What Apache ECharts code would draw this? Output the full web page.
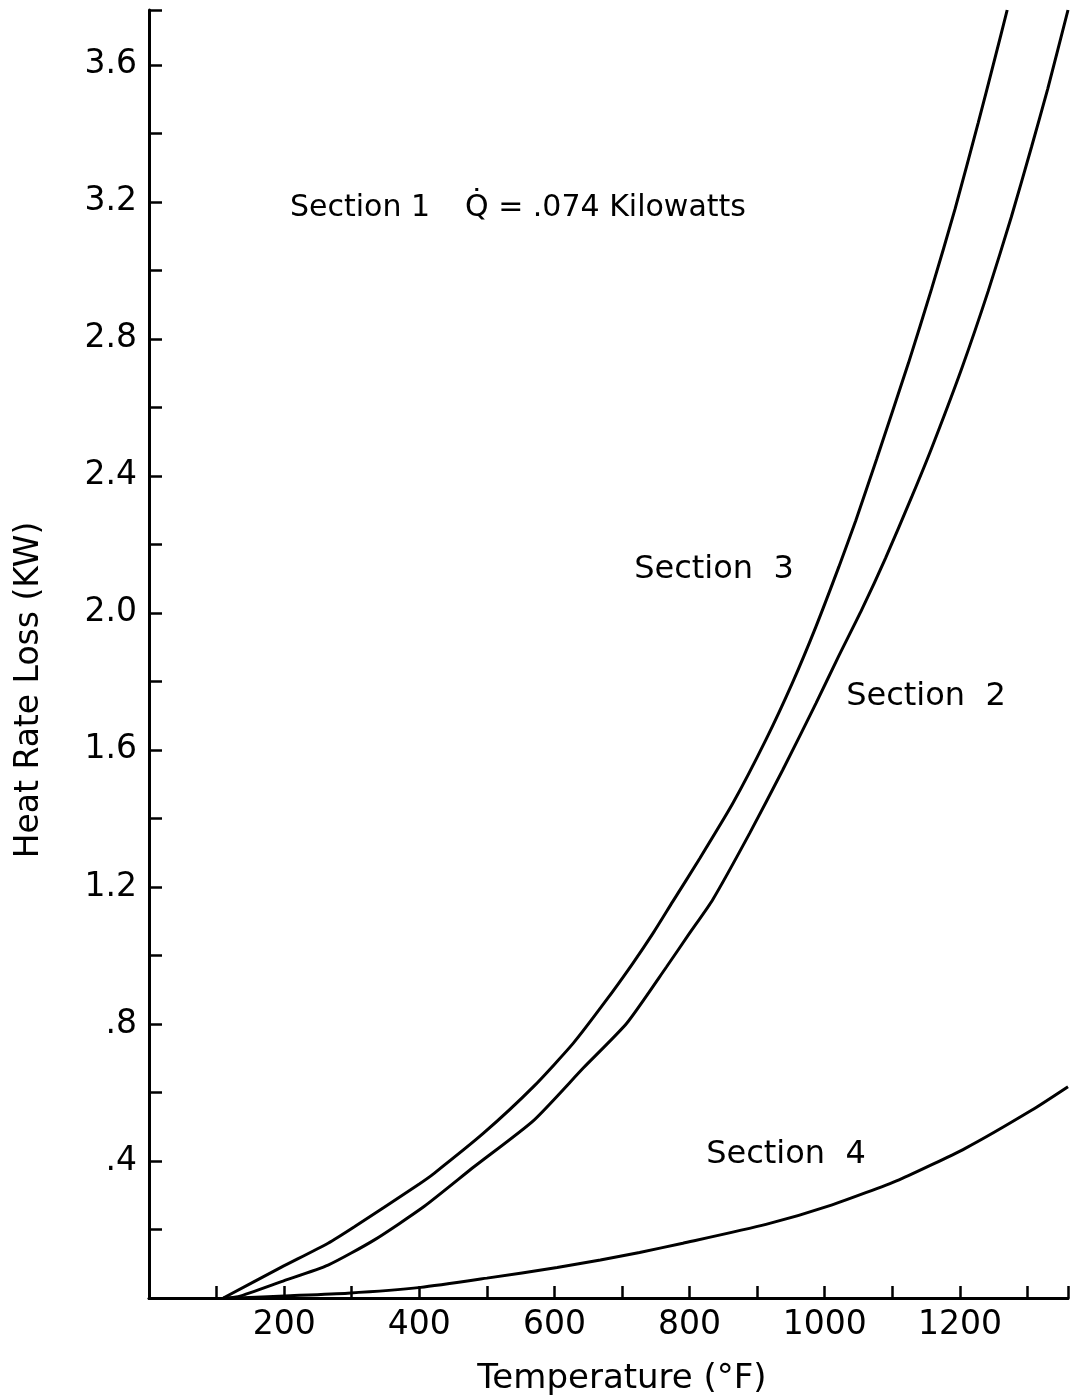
<!DOCTYPE html>
<html>
<head>
<meta charset="utf-8">
<script src="https://cdn.jsdelivr.net/npm/echarts@6/dist/echarts.min.js"></script>
<style>
  html, body { margin: 0; padding: 0; background: #fff; }
  #chart { width: 1071px; height: 1399px; }
</style>
</head>
<body>
<div id="chart"></div>
<script>
// ---- data ----
const sec3Temp = [110, 196, 265, 304, 400, 422, 495, 569, 628, 677, 716, 746, 775, 815, 864, 913, 952, 987, 1021, 1046, 1077, 1124, 1158, 1193, 1227, 1252, 1270];
const sec3Kw   = [0, 0.090, 0.160, 0.208, 0.333, 0.364, 0.481, 0.617, 0.744, 0.870, 0.977, 1.065, 1.157, 1.283, 1.444, 1.630, 1.795, 1.960, 2.135, 2.270, 2.450, 2.730, 2.945, 3.180, 3.430, 3.620, 3.760];

const sec2Temp = [110, 132, 196, 265, 333, 407, 481, 569, 643, 707, 766, 800, 834, 889, 938, 987, 1021, 1055, 1090, 1129, 1158, 1203, 1242, 1276, 1306, 1330, 1360];
const sec2Kw   = [0, 0.004, 0.048, 0.096, 0.169, 0.267, 0.383, 0.518, 0.672, 0.802, 0.967, 1.065, 1.162, 1.357, 1.542, 1.736, 1.875, 2.010, 2.160, 2.340, 2.480, 2.715, 2.940, 3.155, 3.360, 3.530, 3.760];

const sec4Temp = [130, 201, 294, 402, 500, 604, 668, 726, 790, 913, 1011, 1110, 1208, 1306, 1360];
const sec4Kw   = [0, 0.006, 0.014, 0.031, 0.058, 0.089, 0.111, 0.133, 0.160, 0.215, 0.272, 0.345, 0.437, 0.548, 0.617];

const xTickLabels = ['200', '400', '600', '800', '1000', '1200'];
const yTickLabels = ['.4', '.8', '1.2', '1.6', '2.0', '2.4', '2.8', '3.2', '3.6'];

const seriesNames = ['Section 3', 'Section 2', 'Section 4'];
const annotation = ['Section 1', 'Q\u0307 = .074 Kilowatts'];
const xTitle = 'Temperature (\u00B0F)';
const yTitle = 'Heat Rate Loss (KW)';

// ---- helpers ----
const zip = (a, b) => a.map((v, i) => [v, b[i]]);
const FONT = '"DejaVu Sans", "Liberation Sans", sans-serif';

function xLabel(v) {
  const s = String(Math.round(v));
  return (Math.abs(v - Math.round(v)) < 1e-6 && xTickLabels.indexOf(s) >= 0) ? s : '';
}
function yLabel(v) {
  let s = (Math.round(v * 10) / 10).toFixed(1);
  if (Math.abs(v - parseFloat(s)) > 1e-6) return '';
  if (s.charAt(0) === '0') s = s.slice(1);
  return yTickLabels.indexOf(s) >= 0 ? s : '';
}

const chart = echarts.init(document.getElementById('chart'), null, { renderer: 'canvas' });

const lineStyle = { color: '#000', width: 3 };

const option = {
  backgroundColor: '#fff',
  animation: false,
  grid: { left: 149, right: 1, top: 10, bottom: 101, containLabel: false },
  xAxis: [
    {
      type: 'value', min: 0, max: 1360, interval: 100,
      axisLine: { show: true, onZero: false, lineStyle: { color: '#000', width: 3 } },
      axisTick: { show: true, inside: true, length: 12, lineStyle: { color: '#000', width: 2.5 } },
      axisLabel: { formatter: xLabel, color: '#000', fontFamily: FONT, fontSize: 33, margin: 11 },
      splitLine: { show: false }
    },
    {
      type: 'value', position: 'top', min: 0, max: 1360,
      axisLine: { show: true, lineStyle: { color: '#000', width: 2.5 } },
      axisTick: { show: false }, axisLabel: { show: false }, splitLine: { show: false }
    }
  ],
  yAxis: {
    type: 'value', min: 0, max: 3.76, interval: 0.2,
    axisLine: { show: true, onZero: false, lineStyle: { color: '#000', width: 3 } },
    axisTick: { show: true, inside: true, length: 13, lineStyle: { color: '#000', width: 2.5 } },
    axisLabel: { formatter: yLabel, color: '#000', fontFamily: FONT, fontSize: 33, margin: 12 },
    splitLine: { show: false }
  },
  series: [
    { name: seriesNames[0], type: 'line', data: zip(sec3Temp, sec3Kw), showSymbol: false, smooth: 0.2, lineStyle, clip: true },
    { name: seriesNames[1], type: 'line', data: zip(sec2Temp, sec2Kw), showSymbol: false, smooth: 0.2, lineStyle, clip: true },
    { name: seriesNames[2], type: 'line', data: zip(sec4Temp, sec4Kw), showSymbol: false, smooth: 0.2, lineStyle, clip: true }
  ],
  graphic: [
    { type: 'text', x: 290, y: 208, style: { text: annotation[0], font: '30px ' + FONT, fill: '#000', align: 'left', verticalAlign: 'middle' } },
    { type: 'text', x: 465, y: 208, style: { text: annotation[1], font: '30px ' + FONT, fill: '#000', align: 'left', verticalAlign: 'middle' } },
    { type: 'text', x: 714, y: 570, style: { text: 'Section  3', font: '32px ' + FONT, fill: '#000', align: 'center', verticalAlign: 'middle' } },
    { type: 'text', x: 926, y: 697, style: { text: 'Section  2', font: '32px ' + FONT, fill: '#000', align: 'center', verticalAlign: 'middle' } },
    { type: 'text', x: 786, y: 1155, style: { text: 'Section  4', font: '32px ' + FONT, fill: '#000', align: 'center', verticalAlign: 'middle' } },
    { type: 'text', x: 622, y: 1379, style: { text: xTitle, font: '34px ' + FONT, fill: '#000', align: 'center', verticalAlign: 'middle' } },
    { type: 'text', x: 29, y: 690, rotation: Math.PI / 2, style: { text: yTitle, font: '33px ' + FONT, fill: '#000', align: 'center', verticalAlign: 'middle' } }
  ]
};

chart.setOption(option);
</script>
</body>
</html>
